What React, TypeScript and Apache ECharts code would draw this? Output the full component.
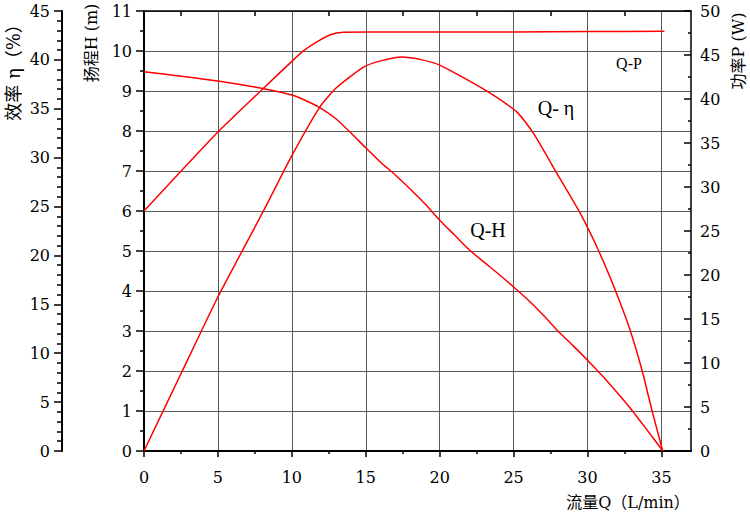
import React, { useEffect, useRef } from "react";
import * as echarts from "echarts";

// ---- data ----
const X_MAJOR = [0, 5, 10, 15, 20, 25, 30, 35];
const X_MINOR = [2.5, 7.5, 12.5, 17.5, 22.5, 27.5, 32.5];

// Q-H curve (head, m)
const qH = [0, 2.5, 5, 7.5, 10, 11, 12, 13, 14, 15, 16, 17, 18, 19, 20, 21, 22, 23, 24, 25, 26, 27, 28, 29, 30, 31, 32, 33, 34, 35.1];
const hValues = [9.48, 9.37, 9.25, 9.1, 8.9, 8.75, 8.56, 8.3, 7.95, 7.58, 7.22, 6.9, 6.55, 6.18, 5.77, 5.4, 5.03, 4.72, 4.42, 4.1, 3.77, 3.4, 3.0, 2.64, 2.27, 1.88, 1.46, 1.02, 0.54, 0];

// Q-η curve (efficiency, %)
const qEta = [0, 2.5, 5, 8.1, 10, 11.9, 13.05, 14.85, 16, 17.45, 18.8, 20.04, 23.2, 25.23, 26.36, 27.94, 29.52, 30.76, 31.9, 32.9, 33.7, 34.37, 35.09];
const etaValues = [0, 7.9, 15.75, 24.6, 30.2, 35.2, 37.2, 39.26, 39.9, 40.29, 40.0, 39.44, 36.8, 34.66, 32.45, 28.36, 24.27, 20.45, 16.36, 12.27, 8.18, 4.09, 0];

// Q-P curve (power, W)
const qP = [0, 5, 8.1, 10, 10.8, 11.7, 12.6, 13.5, 15, 20, 25, 30, 35.2];
const pValues = [27.27, 36.25, 41.25, 44.28, 45.5, 46.5, 47.3, 47.58, 47.6, 47.6, 47.62, 47.66, 47.7];

const zip = (xs: number[], ys: number[]) => xs.map((x, i) => [x, ys[i]]);

const SERIF = '"DejaVu Serif", "Noto Sans CJK SC", serif';
const RED = "#ff0000";
const BLACK = "#000000";
const GRID = "#5a5a5a";

export default function App() {
  const ref = useRef<HTMLDivElement>(null);

  useEffect(() => {
    if (!ref.current) return;
    const chart = echarts.init(ref.current, null, { renderer: "svg" });

    const labelStyle = { color: BLACK, fontSize: 16, fontFamily: SERIF };

    const option: any = {
      animation: false,
      backgroundColor: "#ffffff",
      textStyle: { fontFamily: SERIF },
      grid: { left: 144, top: 11, width: 547, height: 440, containLabel: false },
      xAxis: [
        {
          type: "value",
          position: "bottom",
          min: 0,
          max: 37,
          interval: 5,
          axisLine: { show: true, onZero: false, lineStyle: { color: BLACK, width: 2 } },
          axisTick: { show: true, customValues: X_MAJOR, length: 6, lineStyle: { color: BLACK, width: 1.5 } },
          axisLabel: { ...labelStyle, customValues: X_MAJOR, margin: 18 },
          splitLine: { show: true, lineStyle: { color: GRID, width: 1 } },
        },
        {
          type: "value",
          position: "bottom",
          min: 0,
          max: 37,
          axisLine: { show: false, onZero: false },
          axisTick: { show: true, customValues: X_MINOR, length: 3, lineStyle: { color: BLACK, width: 1.5 } },
          axisLabel: { show: false },
          splitLine: { show: false },
        },
        {
          type: "value",
          position: "top",
          min: 0,
          max: 37,
          axisLine: { show: true, onZero: false, lineStyle: { color: BLACK, width: 1.5 } },
          axisTick: { show: true, inside: true, customValues: X_MINOR, length: 5, lineStyle: { color: BLACK, width: 1.5 } },
          axisLabel: { show: false },
          splitLine: { show: false },
        },
      ],
      yAxis: [
        {
          type: "value",
          position: "left",
          min: 0,
          max: 11,
          interval: 1,
          axisLine: { show: true, onZero: false, lineStyle: { color: BLACK, width: 2 } },
          axisTick: { show: true, length: 8, lineStyle: { color: BLACK, width: 1.5 } },
          minorTick: { show: true, splitNumber: 2, length: 4, lineStyle: { color: BLACK, width: 1.5 } },
          axisLabel: { ...labelStyle, margin: 12 },
          splitLine: { show: true, lineStyle: { color: GRID, width: 1 } },
        },
        {
          type: "value",
          position: "left",
          offset: 82,
          min: 0,
          max: 45,
          interval: 5,
          axisLine: { show: true, onZero: false, lineStyle: { color: BLACK, width: 2 } },
          axisTick: { show: true, length: 8, lineStyle: { color: BLACK, width: 1.5 } },
          minorTick: { show: true, splitNumber: 5, length: 5, lineStyle: { color: BLACK, width: 1.5 } },
          axisLabel: { ...labelStyle, margin: 12 },
          splitLine: { show: false },
        },
        {
          type: "value",
          position: "right",
          min: 0,
          max: 50,
          interval: 5,
          axisLine: { show: true, onZero: false, lineStyle: { color: BLACK, width: 1.5 } },
          axisTick: { show: true, inside: true, length: 7, lineStyle: { color: BLACK, width: 1.5 } },
          minorTick: { show: true, splitNumber: 2, length: 3, lineStyle: { color: BLACK, width: 1.5 } },
          axisLabel: { ...labelStyle, margin: 9 },
          splitLine: { show: false },
        },
      ],
      series: [
        {
          name: "Q-H",
          type: "line",
          xAxisIndex: 0,
          yAxisIndex: 0,
          data: zip(qH, hValues),
          symbol: "none",
          smooth: 0.2,
          lineStyle: { color: RED, width: 1.5 },
        },
        {
          name: "Q-η",
          type: "line",
          xAxisIndex: 0,
          yAxisIndex: 1,
          data: zip(qEta, etaValues),
          symbol: "none",
          smooth: 0.2,
          lineStyle: { color: RED, width: 1.5 },
        },
        {
          name: "Q-P",
          type: "line",
          xAxisIndex: 0,
          yAxisIndex: 2,
          data: zip(qP, pValues),
          symbol: "none",
          smooth: 0.2,
          lineStyle: { color: RED, width: 1.5 },
        },
      ],
      graphic: [
        {
          type: "text",
          x: 13,
          y: 68,
          rotation: Math.PI / 2,
          style: { text: "效率 η（%）", fontSize: 18, fontFamily: SERIF, fill: BLACK, align: "center", verticalAlign: "middle" },
        },
        {
          type: "text",
          x: 91,
          y: 43,
          rotation: Math.PI / 2,
          style: { text: "扬程H (m)", fontSize: 16, fontFamily: SERIF, fill: BLACK, align: "center", verticalAlign: "middle" },
        },
        {
          type: "text",
          x: 738,
          y: 51,
          rotation: Math.PI / 2,
          style: { text: "功率P (W)", fontSize: 16, fontFamily: SERIF, fill: BLACK, align: "center", verticalAlign: "middle" },
        },
        {
          type: "text",
          x: 628,
          y: 502,
          style: { text: "流量Q（L/min）", fontSize: 16, fontFamily: SERIF, fill: BLACK, align: "center", verticalAlign: "middle" },
        },
        {
          type: "text",
          x: 488,
          y: 230,
          style: { text: "Q-H", fontSize: 20, fontFamily: '"Liberation Serif", serif', fill: BLACK, align: "center", verticalAlign: "middle" },
        },
        {
          type: "text",
          x: 556,
          y: 108,
          style: { text: "Q- η", fontSize: 20, fontFamily: '"Liberation Serif", serif', fill: BLACK, align: "center", verticalAlign: "middle" },
        },
        {
          type: "text",
          x: 629,
          y: 63,
          style: { text: "Q-P", fontSize: 16, fontFamily: '"Liberation Serif", serif', fill: BLACK, align: "center", verticalAlign: "middle" },
        },
      ],
    };

    chart.setOption(option);
    return () => chart.dispose();
  }, []);

  return (
    <div
      ref={ref}
      style={{ position: "fixed", left: 0, top: 0, width: 750, height: 515, background: "#ffffff" }}
    />
  );
}
